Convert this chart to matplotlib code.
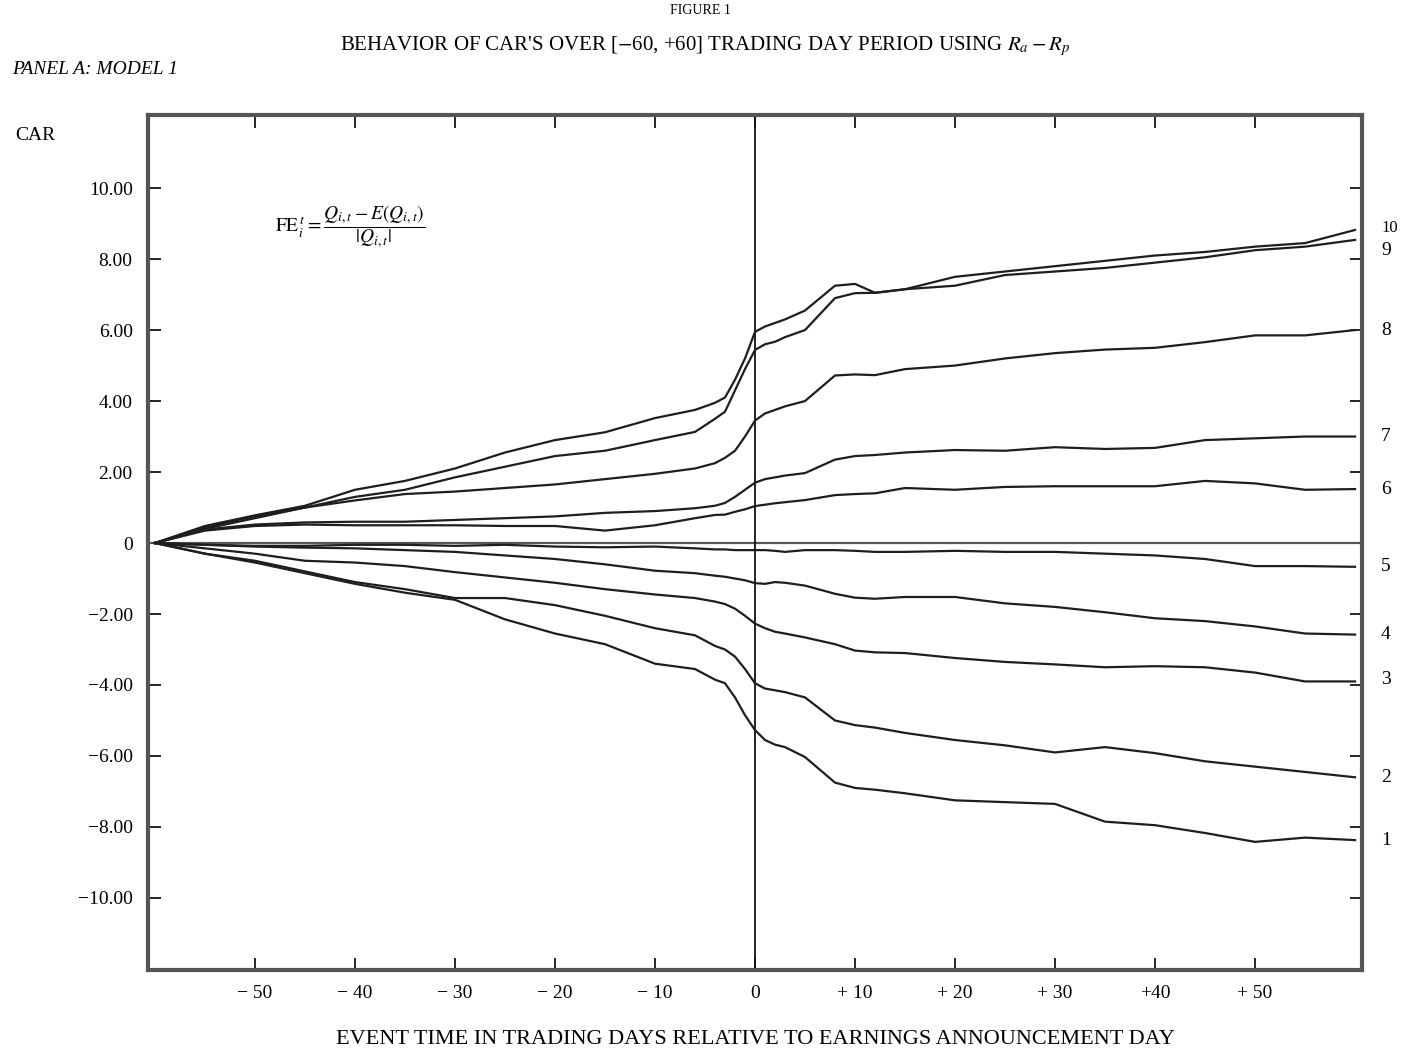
import matplotlib
matplotlib.use("Agg")
import matplotlib.pyplot as plt

plt.rcParams['font.family'] = ['Liberation Serif', 'DejaVu Serif']
plt.rcParams['mathtext.fontset'] = 'stix'

# event days (relative to announcement)
days = [-60, -55, -50, -45, -40, -35, -30, -25, -20, -15, -10, -6, -4, -3, -2, -1,
        0, 1, 2, 3, 5, 8, 10, 12, 15, 20, 25, 30, 35, 40, 45, 50, 55, 60]

# CAR (%) per forecast-error portfolio
car_10 = [0, 0.48, 0.78, 1.05, 1.5, 1.75, 2.1, 2.55, 2.9, 3.12, 3.52, 3.75, 3.95, 4.1, 4.6, 5.2,
          5.95, 6.1, 6.2, 6.3, 6.55, 7.25, 7.3, 7.05, 7.15, 7.5, 7.65, 7.8, 7.95, 8.1, 8.2, 8.35, 8.45, 8.82]
car_9 = [0, 0.45, 0.75, 1.0, 1.3, 1.5, 1.85, 2.15, 2.45, 2.6, 2.9, 3.13, 3.5, 3.7, 4.3, 4.9,
         5.44, 5.6, 5.67, 5.8, 6.0, 6.9, 7.04, 7.05, 7.15, 7.25, 7.55, 7.65, 7.75, 7.9, 8.05, 8.25, 8.35, 8.54]
car_8 = [0, 0.4, 0.7, 1.0, 1.2, 1.38, 1.45, 1.55, 1.65, 1.8, 1.95, 2.1, 2.25, 2.4, 2.6, 3.0,
         3.45, 3.65, 3.75, 3.85, 4.0, 4.72, 4.75, 4.73, 4.9, 5.0, 5.2, 5.35, 5.45, 5.5, 5.66, 5.85, 5.85, 6.0]
car_7 = [0, 0.38, 0.52, 0.58, 0.6, 0.6, 0.65, 0.7, 0.75, 0.85, 0.9, 0.98, 1.05, 1.13, 1.3, 1.5,
         1.7, 1.8, 1.85, 1.9, 1.97, 2.35, 2.45, 2.48, 2.55, 2.62, 2.6, 2.7, 2.65, 2.68, 2.9, 2.95, 3.0, 3.0]
car_6 = [0, 0.35, 0.48, 0.52, 0.5, 0.5, 0.5, 0.48, 0.48, 0.35, 0.5, 0.7, 0.79, 0.8, 0.88, 0.95,
         1.04, 1.08, 1.12, 1.15, 1.21, 1.35, 1.38, 1.4, 1.55, 1.5, 1.58, 1.6, 1.6, 1.6, 1.75, 1.68, 1.5, 1.52]
car_5 = [0, -0.05, -0.08, -0.08, -0.05, -0.05, -0.08, -0.05, -0.1, -0.12, -0.1, -0.15, -0.18, -0.18, -0.2, -0.2,
         -0.2, -0.2, -0.22, -0.25, -0.2, -0.2, -0.22, -0.25, -0.25, -0.22, -0.25, -0.25, -0.3, -0.35, -0.45, -0.65, -0.65, -0.67]
car_4 = [0, -0.05, -0.1, -0.13, -0.15, -0.2, -0.25, -0.35, -0.45, -0.6, -0.78, -0.85, -0.92, -0.95, -1.0, -1.05,
         -1.13, -1.15, -1.1, -1.12, -1.2, -1.43, -1.54, -1.57, -1.52, -1.52, -1.7, -1.8, -1.95, -2.12, -2.2, -2.35, -2.55, -2.58]
car_3 = [0, -0.15, -0.3, -0.5, -0.55, -0.65, -0.82, -0.97, -1.12, -1.3, -1.45, -1.55, -1.65, -1.72, -1.85, -2.05,
         -2.27, -2.4, -2.5, -2.55, -2.66, -2.85, -3.03, -3.08, -3.1, -3.24, -3.35, -3.42, -3.5, -3.47, -3.5, -3.65, -3.9, -3.9]
car_2 = [0, -0.3, -0.5, -0.8, -1.1, -1.3, -1.55, -1.55, -1.75, -2.05, -2.4, -2.6, -2.9, -3.0, -3.2, -3.55,
         -3.95, -4.1, -4.15, -4.2, -4.35, -5.0, -5.13, -5.2, -5.35, -5.55, -5.7, -5.9, -5.75, -5.92, -6.15, -6.3, -6.45, -6.6]
car_1 = [0, -0.3, -0.55, -0.85, -1.15, -1.4, -1.6, -2.15, -2.55, -2.85, -3.4, -3.55, -3.85, -3.95, -4.35, -4.85,
         -5.27, -5.55, -5.68, -5.75, -6.03, -6.75, -6.9, -6.95, -7.05, -7.25, -7.3, -7.35, -7.85, -7.95, -8.17, -8.42, -8.3, -8.37]

series = [car_1, car_2, car_3, car_4, car_5, car_6, car_7, car_8, car_9, car_10]
labels = ["1", "2", "3", "4", "5", "6", "7", "8", "9", "10"]
label_shift = [0, 0, 0.05, 0, 0, 0, 0, 0, -0.3, 0.05]

fig = plt.figure(figsize=(14.01, 10.49), dpi=100)
ax = fig.add_axes([0.1056, 0.0753, 0.8666, 0.8151])

ax.axhline(0, color='#555555', lw=1.6)
ax.axvline(0, color='#111111', lw=1.3)

for s in series:
    ax.plot(days, s, color='#1e1e1e', lw=1.6)

for s, lab, dy in zip(series, labels, label_shift):
    ax.text(62.6, s[-1] + dy, lab, fontsize=12 if lab == "10" else 14,
            ha='left', va='center', clip_on=False)

ax.set_xlim(-60.7, 60.7)
ax.set_ylim(-12.03, 12.06)

xt = [-50, -40, -30, -20, -10, 0, 10, 20, 30, 40, 50]
xt_lab = ["\u2212 50", "\u2212 40", "\u2212 30", "\u2212 20", "\u2212 10", "0",
          "+ 10", "+ 20", "+ 30", "+40", "+ 50"]
yt = [-10, -8, -6, -4, -2, 0, 2, 4, 6, 8, 10]
yt_lab = ["\u221210.00", "\u22128.00", "\u22126.00", "\u22124.00", "\u22122.00", "0",
          "2.00", "4.00", "6.00", "8.00", "10.00"]
ax.set_xticks(xt)
ax.set_xticklabels(xt_lab, fontsize=14)
ax.set_yticks(yt)
ax.set_yticklabels(yt_lab, fontsize=14)
ax.tick_params(direction='in', length=9, width=1.2, top=True, right=True, pad=11)

for sp in ax.spines.values():
    sp.set_linewidth(3)
    sp.set_color('#555555')

ax.set_xlabel("EVENT TIME IN TRADING DAYS RELATIVE TO EARNINGS ANNOUNCEMENT DAY",
              fontsize=16, labelpad=20)

ax.text(-48, 8.9, r"$\mathrm{FE}_i^{\,t} = \dfrac{Q_{i,t} - E(Q_{i,t})}{|Q_{i,t}|}$",
        fontsize=14, ha='left', va='center')

fig.text(35 / 1401, 1 - 136 / 1049, "CAR", fontsize=14, ha='center', va='center')
fig.text(700 / 1401, 1 - 10 / 1049, "FIGURE 1", fontsize=10, ha='center', va='center')
fig.text(705 / 1401, 1 - 46 / 1049,
         r"BEHAVIOR OF CAR'S OVER [$-$60, +60] TRADING DAY PERIOD USING $R_a - R_p$",
         fontsize=15, ha='center', va='center')
fig.text(12 / 1401, 1 - 70 / 1049, "PANEL A: MODEL 1", fontsize=14, style='italic',
         ha='left', va='center')

fig.savefig("out.png", dpi=100)
